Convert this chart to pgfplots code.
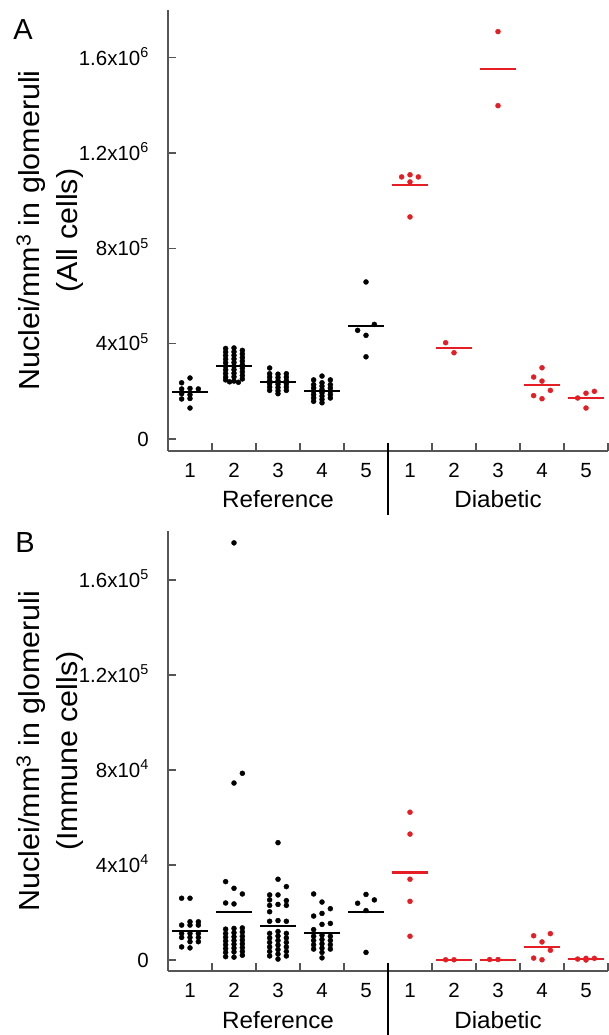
\documentclass[border=0pt]{standalone}
\usepackage{fontspec}
\setmainfont{Liberation Sans}
\newfontfamily\grpfont[FakeStretch=1.03]{Liberation Sans}
\newfontfamily\ylabfont[FakeStretch=1.05]{Liberation Sans}
\usepackage{pgfplots}
\usepackage{pgfplotstable}
\pgfplotsset{compat=1.18}
\definecolor{dotred}{RGB}{228,30,36}
\definecolor{axgray}{RGB}{85,85,85}

% panel A, values in thousands of nuclei/mm^3
\pgfplotstableread{
g dx y
1 0 256
1 -0.19 236
1 -0.19 210
1 0 212
1 0.19 210
1 -0.19 190
1 0 186
1 -0.19 168
1 0 170
1 0 130
2 -0.19 380
2 -0.19 365
2 -0.19 350
2 -0.19 335
2 -0.19 320
2 -0.19 305
2 -0.19 290
2 -0.19 275
2 -0.19 260
2 -0.19 248
2 0 382
2 0 366
2 0 351
2 0 336
2 0 321
2 0 306
2 0 291
2 0 276
2 0 261
2 0 243
2 0.19 372
2 0.19 357
2 0.19 342
2 0.19 327
2 0.19 312
2 0.19 297
2 0.19 282
2 0.19 267
2 0.19 252
2 -0.1 240
2 0.1 238
3 -0.19 298
3 -0.19 274
3 -0.19 260
3 -0.19 246
3 -0.19 232
3 -0.19 218
3 -0.19 204
3 0 272
3 0 258
3 0 244
3 0 230
3 0 216
3 0 202
3 0 190
3 0.19 274
3 0.19 260
3 0.19 246
3 0.19 232
3 0.19 218
3 0.19 204
4 0 264
4 -0.19 248
4 0.19 248
4 -0.19 228
4 -0.19 214
4 -0.19 200
4 -0.19 186
4 -0.19 172
4 -0.19 158
4 0 236
4 0 222
4 0 208
4 0 194
4 0 180
4 0 166
4 0 152
4 0.19 228
4 0.19 214
4 0.19 200
4 0.19 186
4 0.19 172
5 0 659
5 0.19 481
5 -0.19 456
5 0 435
5 0 345
}\refA
\pgfplotstableread{
g dx y
6 -0.19 1100
6 0 1109
6 0.19 1100
6 0 1079
6 0 932
7 -0.19 404
7 0 362
8 0 1710
8 0 1399
9 0 299
9 -0.19 260
9 0 243
9 0.19 204
9 -0.19 182
9 0 169
10 -0.19 172
10 0 192
10 0.19 200
10 0 130
}\diaA
\pgfplotstableread{
g y
1 196
2 306
3 239
4 201
5 474
}\refmeanA
\pgfplotstableread{
g y
6 1065
7 383
8 1554
9 227
10 173
}\diameanA

% panel B, values in thousands of nuclei/mm^3
\pgfplotstableread{
g dx y
1 -0.19 26.0
1 0 26.0
1 0 16.1
1 0.19 16.1
1 -0.19 14.7
1 0 14.7
1 0.19 14.7
1 -0.19 11.2
1 0 11.2
1 0.19 11.2
1 -0.19 9.5
1 0 9.5
1 0.19 9.5
1 0 7.7
1 0.19 7.7
1 -0.19 5.5
1 0 5.1
2 0 175.6
2 0.19 78.6
2 0 74.5
2 -0.19 33.0
2 0 30.2
2 0.19 27.8
2 -0.19 24.0
2 0 23.6
2 -0.19 13.0
2 -0.19 11.2
2 -0.19 9.6
2 -0.19 8.0
2 -0.19 6.4
2 -0.19 4.8
2 -0.19 3.2
2 -0.19 1.4
2 0 13.3
2 0 11.5
2 0 9.8
2 0 8.2
2 0 6.6
2 0 5.0
2 0 3.4
2 0 1.2
2 0.19 13.5
2 0.19 11.8
2 0.19 10.0
2 0.19 8.4
2 0.19 6.8
2 0.19 5.2
2 0.19 3.6
2 0.19 2.0
3 0 49.4
3 0 34.0
3 0.19 30.9
3 -0.19 27.4
3 0 27.4
3 -0.19 25.3
3 0.19 25.0
3 -0.19 23.0
3 0 23.4
3 0.19 23.0
3 -0.19 20.3
3 -0.19 16.3
3 0 16.6
3 0.19 16.3
3 -0.19 11.2
3 -0.19 9.3
3 -0.19 7.4
3 -0.19 5.5
3 -0.19 3.6
3 -0.19 1.7
3 0 12.0
3 0 10.1
3 0 8.2
3 0 6.3
3 0 4.4
3 0 2.5
3 0 0.4
3 0.19 11.2
3 0.19 9.3
3 0.19 7.4
3 0.19 5.5
3 0.19 3.6
3 0.19 1.7
4 -0.19 27.8
4 0 24.4
4 0.19 21.6
4 0 19.6
4 -0.19 18.5
4 0.19 15.4
4 0 15.0
4 -0.19 12.8
4 -0.19 10.0
4 -0.19 8.2
4 -0.19 6.4
4 -0.19 4.6
4 0 10.4
4 0 8.6
4 0 6.8
4 0 5.0
4 0 3.2
4 0 0.9
4 0.19 10.0
4 0.19 8.2
4 0.19 6.4
4 0.19 4.6
5 0 27.6
5 0.19 25.3
5 -0.19 23.9
5 0 20.8
5 0 3.2
}\refB
\pgfplotstableread{
g dx y
6 0 62.2
6 0 53.0
6 0 34.0
6 0 24.7
6 0 10.0
7 -0.19 0.1
7 0 0.1
8 -0.19 0.2
8 0 0.2
9 0.19 11.1
9 -0.19 10.2
9 0 7.6
9 0.19 4.1
9 -0.19 0.8
9 0 0.1
10 -0.19 0.4
10 0 0.7
10 0.19 0.7
10 0 0.0
}\diaB
\pgfplotstableread{
g y
1 12.3
2 20.3
3 14.4
4 11.5
5 20.2
}\refmeanB
\pgfplotstableread{
g y
6 36.8
7 0.1
8 0.1
9 5.6
10 0.5
}\diameanB

\pgfplotsset{
  panel/.style={
    scale only axis, width=440pt, xmin=0, xmax=10, clip=false,
    axis x line*=bottom, axis y line*=left,
    axis line style={axgray, line width=1.2pt, -},
    tick align=inside, major tick length=8pt,
    tick style={axgray, line width=1.2pt},
    xtick={1,...,10}, xticklabels={},
    extra x ticks={0.5,1.5,...,9.5},
    extra x tick labels={1,2,3,4,5,1,2,3,4,5},
    extra x tick style={major tick length=0pt},
    xticklabel style={font=\fontsize{20.5}{23}\selectfont, anchor=base, inner sep=0pt, yshift=-26.5pt},
    yticklabel style={font=\fontsize{20.5}{23}\selectfont, anchor=base east, inner sep=0pt, xshift=-19pt, yshift=-7.3pt},
    ylabel style={font=\ylabfont\fontsize{29}{38}\selectfont, align=center,
      at={(axis description cs:-0.191,0.5)}, anchor=south, inner sep=0pt},
  },
  dots/.style={only marks, mark=*, mark size=2.5pt},
  means/.style={only marks, mark=-, mark size=18pt, mark options={line width=2.2pt}},
}
\tikzset{grp/.style={anchor=base, font=\grpfont\fontsize{23.5}{26}\selectfont}}

\begin{document}
\begin{tikzpicture}
\path[use as bounding box] (0,0) rectangle (609pt,1035pt);

\begin{axis}[panel, at={(168pt,584pt)}, anchor=south west, height=441pt,
  ymin=-50.4, ymax=1800.7,
  ytick={0,400,800,1200,1600},
  yticklabels={0,4x10\textsuperscript{5},8x10\textsuperscript{5},1.2x10\textsuperscript{6},1.6x10\textsuperscript{6}},
  ylabel={Nuclei/mm\textsuperscript{3} in glomeruli\\(All cells)}]
\addplot[dots, black] table[x expr=\thisrow{g}-0.5+\thisrow{dx}, y=y] {\refA};
\addplot[dots, dotred] table[x expr=\thisrow{g}-0.5+\thisrow{dx}, y=y] {\diaA};
\addplot[means, black] table[x expr=\thisrow{g}-0.5, y=y] {\refmeanA};
\addplot[means, dotred] table[x expr=\thisrow{g}-0.5, y=y] {\diameanA};
\draw[black, line width=1.2pt] ([yshift=8pt]rel axis cs:0.5,0) -- ([yshift=-64pt]rel axis cs:0.5,0);
\node[grp] at ([yshift=-57pt]rel axis cs:0.25,0) {Reference};
\node[grp] at ([yshift=-57pt]rel axis cs:0.75,0) {Diabetic};
\end{axis}

\begin{axis}[panel, at={(168pt,64pt)}, anchor=south west, height=440pt,
  ymin=-4.63, ymax=180.6,
  ytick={0,40,80,120,160},
  yticklabels={0,4x10\textsuperscript{4},8x10\textsuperscript{4},1.2x10\textsuperscript{5},1.6x10\textsuperscript{5}},
  ylabel={Nuclei/mm\textsuperscript{3} in glomeruli\\(Immune cells)}]
\addplot[dots, black] table[x expr=\thisrow{g}-0.5+\thisrow{dx}, y=y] {\refB};
\addplot[dots, dotred] table[x expr=\thisrow{g}-0.5+\thisrow{dx}, y=y] {\diaB};
\addplot[means, black] table[x expr=\thisrow{g}-0.5, y=y] {\refmeanB};
\addplot[means, dotred] table[x expr=\thisrow{g}-0.5, y=y] {\diameanB};
\draw[black, line width=1.2pt] ([yshift=8pt]rel axis cs:0.5,0) -- ([yshift=-64pt]rel axis cs:0.5,0);
\node[grp] at ([yshift=-57pt]rel axis cs:0.25,0) {Reference};
\node[grp] at ([yshift=-57pt]rel axis cs:0.75,0) {Diabetic};
\end{axis}

\node[font=\fontsize{29}{31}\selectfont] at (23pt,1005pt) {A};
\node[font=\fontsize{29}{31}\selectfont] at (25pt,492pt) {B};
\end{tikzpicture}
\end{document}
